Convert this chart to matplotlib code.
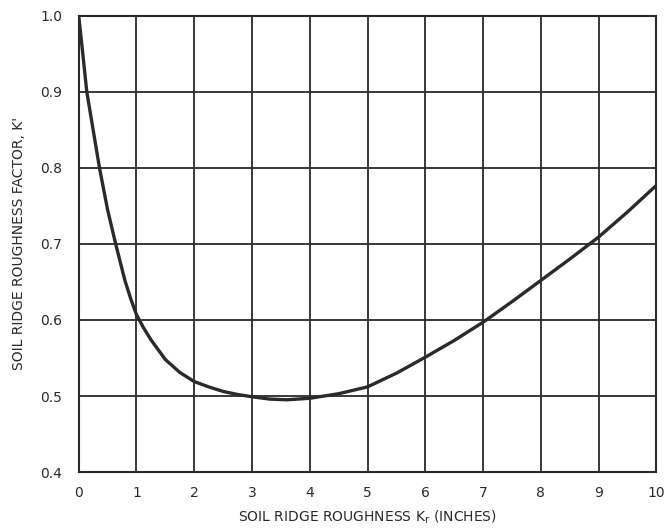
import matplotlib
matplotlib.use("Agg")
import matplotlib.pyplot as plt

# Curve
ridge_kr = [0, 0.05, 0.14, 0.25, 0.36, 0.5, 0.64, 0.8, 0.9, 1.0, 1.12, 1.25, 1.5, 1.75,
            2.0, 2.25, 2.5, 2.75, 3.0, 3.3, 3.6, 4.0, 4.5, 5.0, 5.5, 6.0, 6.5, 7.0, 7.5,
            8.0, 8.5, 9.0, 9.5, 10.0]
factor_k = [1.0, 0.965, 0.90, 0.85, 0.80, 0.745, 0.70, 0.652, 0.628, 0.607, 0.59, 0.574, 0.548, 0.531,
            0.519, 0.512, 0.506, 0.502, 0.499, 0.496, 0.495, 0.497, 0.503, 0.512, 0.53, 0.551, 0.573,
            0.597, 0.624, 0.652, 0.68, 0.709, 0.742, 0.777]

x_ticks = list(range(0, 11))
y_ticks = [0.4, 0.5, 0.6, 0.7, 0.8, 0.9, 1.0]
y_labels = ["0.4", "0.5", "0.6", "0.7", "0.8", "0.9", "1.0"]

ink = "#2a2a2a"

fig = plt.figure(figsize=(6.67, 5.28), dpi=100)
ax = fig.add_axes([0.118, 0.106, 0.866, 0.864])

ax.plot(ridge_kr, factor_k, color=ink, linewidth=2.4, solid_capstyle="round",
        solid_joinstyle="round", zorder=3)

ax.set_xlim(0, 10)
ax.set_ylim(0.4, 1.0)
ax.set_xticks(x_ticks)
ax.set_yticks(y_ticks)
ax.set_yticklabels(y_labels)
ax.grid(True, color=ink, linewidth=1.3)
ax.tick_params(length=0, labelsize=10, labelcolor=ink)
ax.tick_params(axis="x", pad=10)
ax.tick_params(axis="y", pad=12)
for s in ax.spines.values():
    s.set_color(ink)
    s.set_linewidth(1.5)

ax.set_xlabel("SOIL RIDGE ROUGHNESS K$_\\mathregular{r}$ (INCHES)", fontsize=10,
              color=ink, labelpad=6)
ax.set_ylabel("SOIL RIDGE ROUGHNESS FACTOR, K'", fontsize=10, color=ink, labelpad=10)

fig.savefig("out.png", dpi=100)
